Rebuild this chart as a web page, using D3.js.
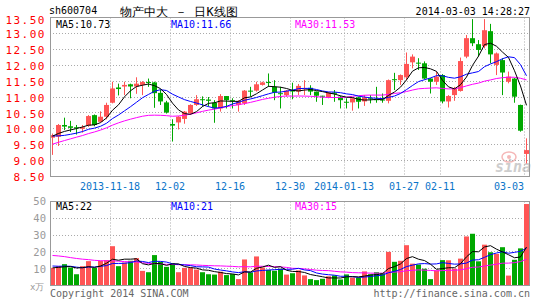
<!DOCTYPE html>
<html>
<head>
<meta charset="utf-8">
<title>sh600704 日K线图</title>
<script src="https://d3js.org/d3.v7.min.js"></script>
<style>
  body { margin: 0; background: #fff; }
  svg { display: block; }
  text { font-family: "DejaVu Sans Mono", monospace; }
</style>
</head>
<body>
<div id="chart"></div>
<script>
// ---- data ----
const opens  = [9.72,9.75,10.12,10.08,10.05,10.00,10.10,10.43,10.22,10.38,10.82,11.30,11.33,11.40,11.33,11.38,11.47,11.46,11.13,10.83,
                10.15,10.20,10.31,10.49,10.75,10.93,10.92,10.82,10.64,11.03,10.90,10.75,10.80,11.20,11.20,11.38,11.47,11.32,11.12,11.06,
                11.22,11.17,11.26,11.29,11.17,11.04,10.99,11.14,11.01,10.85,10.83,10.99,10.86,10.96,10.93,10.92,10.88,11.56,11.53,11.62,
                12.09,12.08,12.06,11.58,11.48,11.69,10.86,11.06,11.19,12.27,12.85,12.66,12.60,13.07,12.01,12.16,11.48,11.58,10.75,9.21];
const highs  = [9.85,10.15,10.35,10.25,10.12,10.12,10.43,10.45,10.55,10.82,11.48,11.42,11.48,11.42,11.62,11.50,11.58,11.48,11.24,10.88,
                10.30,10.40,10.56,10.77,11.06,11.02,11.00,10.90,11.09,11.03,10.96,10.90,11.22,11.32,11.48,11.48,11.74,11.53,11.32,11.22,
                11.45,11.41,11.53,11.37,11.17,11.04,11.16,11.22,11.04,10.96,10.98,11.01,11.06,11.06,11.32,11.11,11.55,11.76,11.71,12.40,
                12.34,12.22,12.12,11.60,11.80,11.72,11.06,11.32,12.24,12.95,13.45,12.79,13.45,13.30,12.40,12.22,11.80,11.60,10.76,9.70];
const lows   = [9.18,9.46,9.96,9.90,9.82,9.88,10.06,10.08,10.20,10.30,10.80,11.05,11.06,10.96,11.10,11.06,11.32,10.66,10.75,10.48,
                9.60,9.98,10.16,10.45,10.72,10.70,10.70,10.19,10.54,10.64,10.64,10.54,10.75,11.01,11.17,11.36,11.32,10.90,10.64,11.01,
                10.93,11.06,11.06,11.06,10.85,10.75,10.96,10.85,10.64,10.64,10.57,10.64,10.72,10.80,10.82,10.82,10.80,11.22,11.38,11.53,
                11.90,11.85,11.55,11.11,11.38,10.80,10.67,10.88,11.17,12.22,12.60,12.27,12.53,12.06,11.69,11.06,11.43,10.82,9.91,8.91];
const closes = [9.80,10.12,10.07,10.03,10.02,10.05,10.40,10.12,10.38,10.75,11.27,11.25,11.38,11.33,11.42,11.47,11.44,11.12,10.86,10.51,
                10.10,10.38,10.54,10.75,10.93,10.90,10.88,10.64,11.03,10.90,10.87,10.87,11.20,11.17,11.40,11.46,11.45,11.14,11.09,11.20,
                11.17,11.35,11.28,11.17,11.04,11.01,11.14,11.10,10.90,10.82,10.96,10.85,10.99,10.93,10.90,10.90,11.53,11.53,11.69,12.04,
                12.27,12.06,11.58,11.48,11.64,10.86,11.03,11.27,12.13,12.85,12.69,12.48,13.10,12.34,12.37,11.77,11.64,11.01,9.94,9.33];
const volumes = [10.5,11.5,12.7,10.7,6.7,11.5,14.5,10.5,14.7,15.1,23.4,11.5,13.7,14.7,16.3,8.7,7.9,18.1,14.1,11.1,
                 13.1,7.9,10.5,10.7,9.5,7.9,6.7,6.5,8.2,6.2,6.8,3.8,15.5,7.8,17.3,10.7,9.3,8.8,10.0,6.5,
                 7.3,9.0,6.0,3.8,3.2,4.0,5.5,6.0,3.6,6.6,4.7,4.7,8.4,6.7,7.9,7.5,20.0,14.1,14.7,24.0,
                 13.0,12.5,10.0,3.8,9.0,15.1,15.0,10.0,16.0,29.2,30.8,14.4,24.3,19.8,18.8,22.8,5.9,15.3,22.1,48.5];
// earlier sessions (off the left edge), estimated from where the MA lines start
const priorCloses = [8.35,8.40,8.45,8.44,8.50,8.55,8.58,8.62,8.65,8.70,9.10,9.50,9.75,9.95,10.15,
                     10.60,10.95,11.00,10.85,10.65,10.10,9.90,9.70,9.65,9.55,9.70,9.75,9.80,9.80];
const priorVolumes = [20,25,28,22,24,23,23,21,18,22,19,20,21,18.4,22,19,24,18,18.9,
                      14,13,12,11.5,12,15,10,11,10,11];

const tickIndex  = [10,20,30,40,49,59,65,79];
const tickLabels = ["2013-11-18","12-02","12-16","12-30","2014-01-13","01-27","02-11","03-03"];
const priceTicks = [8.5,9,9.5,10,10.5,11,11.5,12,12.5,13,13.5];
const volTicks = [10,20,30,40,50];
const maNames = ["MA5","MA10","MA30"];
const maPeriods = [5,10,30];
const maColors = ["#000000","#0000ff","#ff00ff"];
const priceMaText = ["10.73","11.66","11.53"];
const volMaText = ["22","21","15"];

// ---- layout ----
const W = 545, H = 300;
const left = 50, right = 530;
const priceTop = 17.5, priceBottom = 176.5;
const volTop = 201.5, volBottom = 285.5;
const upColor = "#ff5555", downColor = "#00a800";

function movingAvg(prior, values, n) {
  const all = prior.concat(values);
  return values.map((v, i) => {
    const end = prior.length + i + 1;
    return d3.mean(all.slice(end - n, end));
  });
}

const svg = d3.select("#chart").append("svg")
  .attr("width", W).attr("height", H);

const x = d3.scaleBand().domain(d3.range(closes.length)).range([left, right]);
const yPrice = d3.scaleLinear().domain([8.5, 13.5]).range([priceBottom, priceTop]);
const yVol = d3.scaleLinear().domain([0, 50]).range([volBottom, volTop]);
const crisp = v => Math.floor(v) + 0.5;

// header
svg.append("text").attr("x", 49).attr("y", 14).attr("font-size", 10).text("sh600704");
svg.append("text").attr("x", 120).attr("y", 15.5)
  .attr("font-family", "'Noto Sans CJK SC', sans-serif").attr("font-size", 12)
  .text("物产中大 － 日K线图");
svg.append("text").attr("x", right).attr("y", 14.5).attr("text-anchor", "end")
  .attr("font-size", 10).text("2014-03-03 14:28:27");

// sina watermark
const logo = svg.append("g").attr("opacity", 0.75);
logo.append("ellipse").attr("cx", 509).attr("cy", 157).attr("rx", 7).attr("ry", 5)
  .attr("fill", "none").attr("stroke", "#f2a0a0").attr("stroke-width", 1.5);
logo.append("circle").attr("cx", 509).attr("cy", 157).attr("r", 2).attr("fill", "#f2a0a0");
logo.append("text").attr("x", 495).attr("y", 172)
  .attr("font-family", "'Liberation Sans', sans-serif").attr("font-size", 15)
  .attr("font-weight", "bold").attr("font-style", "italic").attr("fill", "#bdbdbd").text("sina");

// grids
const grid = svg.append("g").attr("stroke", "#aaa").attr("stroke-dasharray", "1,2");
grid.selectAll(".hp").data(priceTicks.slice(1, -1)).join("line")
  .attr("x1", left).attr("x2", right)
  .attr("y1", d => crisp(yPrice(d))).attr("y2", d => crisp(yPrice(d)));
grid.selectAll(".hv").data(volTicks.slice(0, -1)).join("line").attr("class", "hv")
  .attr("x1", left).attr("x2", right)
  .attr("y1", d => crisp(yVol(d))).attr("y2", d => crisp(yVol(d)));
tickIndex.forEach(i => {
  [[priceTop, priceBottom], [volTop, volBottom]].forEach(([a, b]) => {
    grid.append("line").attr("x1", x(i) + 0.5).attr("x2", x(i) + 0.5).attr("y1", a).attr("y2", b);
  });
});

// price axis
const pAxis = svg.append("g").attr("transform", `translate(${left},0)`)
  .call(d3.axisLeft(yPrice).tickValues(priceTicks).tickFormat(d3.format(".2f")).tickSize(0).tickPadding(4));
pAxis.select(".domain").remove();
pAxis.selectAll("text").attr("fill", "#ff0000").attr("font-size", 11)
  .attr("letter-spacing", 1.5).attr("font-family", "'DejaVu Sans Mono', monospace")
  .attr("dy", d => d === 13.5 ? "0.5em" : "0.38em");

// volume axis
const vAxis = svg.append("g").attr("transform", `translate(${left},0)`)
  .call(d3.axisLeft(yVol).tickValues(volTicks).tickSize(0).tickPadding(4));
vAxis.select(".domain").remove();
vAxis.selectAll("text").attr("fill", "#999").attr("font-size", 10.5)
  .attr("font-family", "'DejaVu Sans Mono', monospace");

// date labels
svg.append("g").selectAll("text").data(tickIndex).join("text")
  .attr("y", 190).attr("font-size", 10).attr("fill", "#0a74c9")
  .each(function (d, k) {
    const label = tickLabels[k], w = label.length * 6;
    const sel = d3.select(this).text(label);
    if (x(d) + w / 2 > right - 4) sel.attr("x", x(d)).attr("text-anchor", "end");
    else sel.attr("x", x(d)).attr("text-anchor", "middle");
  });

// candles
const isUp = i => closes[i] >= opens[i];
const candles = svg.append("g").selectAll("g").data(d3.range(closes.length)).join("g");
candles.append("rect")
  .attr("x", i => x(i) + 2).attr("width", 1)
  .attr("y", i => yPrice(highs[i])).attr("height", i => yPrice(lows[i]) - yPrice(highs[i]))
  .attr("fill", i => isUp(i) ? upColor : downColor);
candles.append("rect")
  .attr("x", i => x(i)).attr("width", 5)
  .attr("y", i => yPrice(Math.max(opens[i], closes[i])))
  .attr("height", i => Math.max(1, Math.abs(yPrice(opens[i]) - yPrice(closes[i]))))
  .attr("fill", i => isUp(i) ? upColor : downColor);

// volume bars
svg.append("g").selectAll("rect").data(d3.range(volumes.length)).join("rect")
  .attr("x", i => x(i)).attr("width", 5)
  .attr("y", i => yVol(volumes[i])).attr("height", i => volBottom - yVol(volumes[i]))
  .attr("fill", i => isUp(i) ? upColor : downColor);

// moving averages
const cx = i => x(i) + 2.5;
maPeriods.slice().reverse().forEach((n, r) => {
  const k = maPeriods.length - 1 - r;
  const pm = movingAvg(priorCloses, closes, n);
  const vm = movingAvg(priorVolumes, volumes, n);
  svg.append("path").datum(pm)
    .attr("d", d3.line().x((d, i) => cx(i)).y(d => yPrice(d)))
    .attr("fill", "none").attr("stroke", maColors[k]).attr("stroke-width", 1);
  svg.append("path").datum(vm)
    .attr("d", d3.line().x((d, i) => cx(i)).y(d => yVol(d)))
    .attr("fill", "none").attr("stroke", maColors[k]).attr("stroke-width", 1);
});

// frames
[[priceTop, priceBottom], [volTop, volBottom]].forEach(([a, b]) => {
  svg.append("rect").attr("x", left + 0.5).attr("y", a).attr("width", right - left - 1).attr("height", b - a)
    .attr("fill", "none").attr("stroke", "#999").attr("stroke-width", 1);
});

// MA legends
const maX = [56, 171, 295];
maNames.forEach((m, k) => {
  svg.append("text").attr("x", maX[k]).attr("y", 28).attr("font-size", 10)
    .attr("fill", maColors[k]).text(m + ":" + priceMaText[k]);
  svg.append("text").attr("x", maX[k]).attr("y", 210).attr("font-size", 10)
    .attr("fill", maColors[k]).text(m + ":" + volMaText[k]);
});

// footer
svg.append("text").attr("x", 30).attr("y", 290).attr("font-size", 9).attr("fill", "#999")
  .attr("font-family", "'Noto Sans CJK SC', sans-serif").text("x万");
svg.append("text").attr("x", 50).attr("y", 297).attr("font-size", 10).attr("fill", "#666")
  .text("Copyright 2014 SINA.COM");
svg.append("text").attr("x", right).attr("y", 297).attr("text-anchor", "end")
  .attr("font-size", 10).attr("fill", "#666").text("http://finance.sina.com.cn");
</script>
</body>
</html>
